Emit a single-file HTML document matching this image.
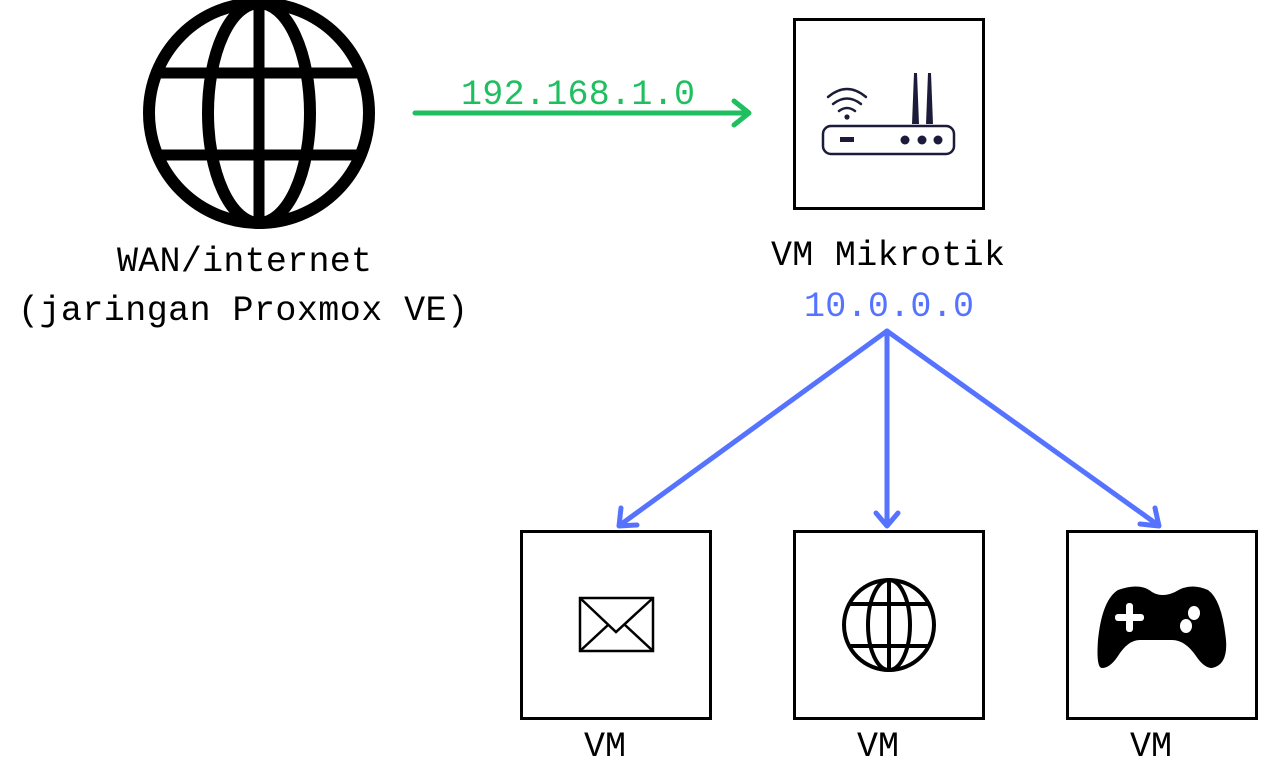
<!DOCTYPE html>
<html><head><meta charset="utf-8"><style>
html,body{margin:0;padding:0;background:#fff;}
svg{display:block;}
text{font-family:"Liberation Mono",monospace;font-size:35px;}
</style></head><body>
<svg width="1272" height="778" viewBox="0 0 1272 778" xmlns="http://www.w3.org/2000/svg">
<g fill="none" stroke="#000" stroke-width="12">
<circle cx="259" cy="113" r="110"/>
<ellipse cx="259" cy="113" rx="51" ry="110"/>
<line x1="259" y1="3" x2="259" y2="223" stroke-width="11"/>
<line x1="155" y1="73" x2="363" y2="73" stroke-width="11"/>
<line x1="155" y1="155" x2="363" y2="155" stroke-width="11"/>
</g>
<text x="117" y="271" textLength="255">WAN/internet</text>
<text x="18" y="320" textLength="450">(jaringan Proxmox VE)</text>

<text x="461" y="104" fill="#1fbf5f" textLength="234">192.168.1.0</text>
<g stroke="#1fbf5f" stroke-width="5" fill="none" stroke-linecap="round" stroke-linejoin="round">
<line x1="415" y1="113" x2="748" y2="113"/>
<polyline points="734,101 749,113 734,125"/>
</g>

<rect x="794.5" y="19.5" width="189" height="189" fill="none" stroke="#000" stroke-width="3"/>
<g fill="none" stroke="#1c1c3a" stroke-width="2.5" stroke-linecap="round">
<rect x="823" y="126" width="131" height="28" rx="8"/>
<path d="M828,97 Q847,81 866,97"/>
<path d="M833,104 Q847,93 861,104"/>
<path d="M839,111 Q847,105 855,111"/>
</g>
<g fill="#1c1c3a">
<circle cx="847" cy="117" r="2.6"/>
<rect x="840" y="137" width="14" height="5"/>
<circle cx="905" cy="140" r="4.5"/>
<circle cx="922" cy="140" r="4.5"/>
<circle cx="938" cy="140" r="4.5"/>
<polygon points="914,73 917,73 919,124 912,124"/>
<polygon points="928,73 931,73 933,124 926,124"/>
</g>
<text x="771" y="265" textLength="234">VM Mikrotik</text>
<text x="804" y="316" fill="#5573ff" textLength="170">10.0.0.0</text>

<g stroke="#5573ff" stroke-width="5" fill="none" stroke-linecap="round" stroke-linejoin="round">
<line x1="887" y1="331" x2="620" y2="525"/>
<line x1="887" y1="331" x2="887" y2="524"/>
<line x1="887" y1="331" x2="1158" y2="525"/>
<polyline points="621,508 619,526 637,525"/>
<polyline points="876,513 887,526 898,513"/>
<polyline points="1140,524 1159,526 1155,508"/>
</g>

<g fill="none" stroke="#000" stroke-width="3">
<rect x="521.5" y="531.5" width="189" height="187"/>
<rect x="794.5" y="531.5" width="189" height="187"/>
<rect x="1067.5" y="531.5" width="189" height="187"/>
</g>
<g fill="none" stroke="#000" stroke-width="2.5">
<rect x="580" y="598" width="73" height="53"/>
<polyline points="580,598 616,632 653,598"/>
<line x1="580" y1="651" x2="608" y2="625"/>
<line x1="653" y1="651" x2="625" y2="625"/>
</g>
<g fill="none" stroke="#000" stroke-width="4">
<circle cx="889" cy="625" r="45"/>
<ellipse cx="889" cy="625" rx="21" ry="45"/>
<line x1="889" y1="580" x2="889" y2="670"/>
<line x1="850" y1="604" x2="928" y2="604"/>
<line x1="850" y1="646" x2="928" y2="646"/>
</g>
<path d="M1118,590 Q1140,582 1152,592 Q1162,598 1175,592 Q1190,582 1208,590 Q1222,600 1226,640 Q1228,665 1212,668 Q1204,668 1196,656 Q1185,640 1172,640 L1140,640 Q1128,640 1118,656 Q1110,668 1102,668 Q1096,668 1098,640 Q1102,600 1118,590 Z" fill="#000"/>
<g fill="#fff">
<rect x="1126" y="603" width="7" height="29" rx="3"/>
<rect x="1115" y="614" width="29" height="7" rx="3"/>
<ellipse cx="1194" cy="613" rx="6" ry="7"/>
<ellipse cx="1186" cy="626" rx="6" ry="7"/>
</g>
<text x="584" y="756">VM</text>
<text x="857" y="756">VM</text>
<text x="1130" y="756">VM</text>
</svg>
</body></html>
